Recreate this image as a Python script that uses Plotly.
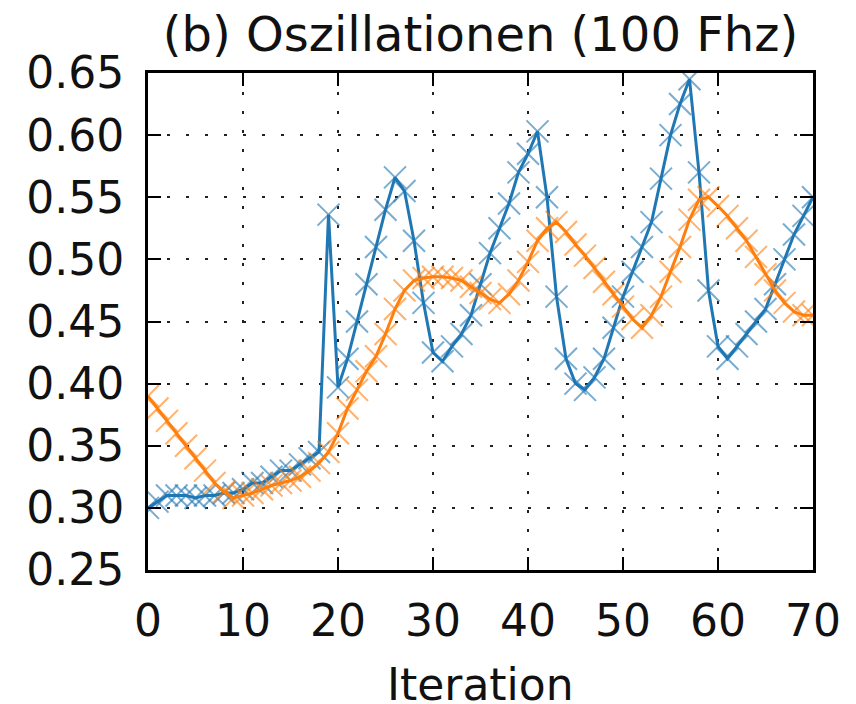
import plotly.graph_objects as go

# Iterations 0..70
iterations = list(range(71))

# Series values per iteration
series_blue = [
    0.300, 0.305, 0.310, 0.310, 0.310, 0.308, 0.310, 0.310, 0.312, 0.312,
    0.315, 0.320, 0.320, 0.325, 0.330, 0.330, 0.335, 0.340, 0.345,
    0.536, 0.397, 0.420, 0.450, 0.480, 0.510, 0.540, 0.566, 0.555, 0.515, 0.465, 0.425,
    0.418, 0.430, 0.440, 0.455, 0.480, 0.505, 0.525, 0.545, 0.570, 0.585, 0.603,
    0.550, 0.470, 0.420, 0.400, 0.395, 0.405, 0.420, 0.445, 0.470, 0.490, 0.510, 0.530,
    0.565, 0.600, 0.625, 0.645,
    0.570, 0.475, 0.430, 0.420, 0.430, 0.440, 0.450, 0.460, 0.480, 0.500, 0.520, 0.535, 0.550,
]
series_orange = [
    0.390, 0.380, 0.370, 0.360, 0.350, 0.340, 0.330, 0.320, 0.313, 0.308,
    0.310, 0.312, 0.315, 0.318, 0.320, 0.322, 0.325, 0.330, 0.336,
    0.345, 0.360, 0.380, 0.395, 0.410, 0.422, 0.440, 0.460, 0.475, 0.483, 0.485, 0.486,
    0.486, 0.485, 0.483, 0.478, 0.473, 0.468, 0.465, 0.472, 0.483, 0.498, 0.515,
    0.525, 0.530, 0.522, 0.512, 0.503, 0.493, 0.482, 0.472, 0.462, 0.452, 0.445, 0.455,
    0.470, 0.490, 0.510, 0.532,
    0.548, 0.550, 0.543, 0.535, 0.525, 0.515, 0.502, 0.488, 0.475, 0.465, 0.458, 0.455, 0.455,
]

x_ticks = [0, 10, 20, 30, 40, 50, 60, 70]
y_ticks = [0.25, 0.30, 0.35, 0.40, 0.45, 0.50, 0.55, 0.60, 0.65]

title_text = "(b) Oszillationen (100 Fhz)"
x_label = "Iteration"

FONT = "DejaVu Sans"

fig = go.Figure()
for vals, color in [(series_blue, "#1f77b4"), (series_orange, "#ff7f0e")]:
    fig.add_trace(go.Scatter(
        x=iterations, y=vals, mode="lines+markers",
        line=dict(color=color, width=3),
        marker=dict(symbol="x-thin", size=22, opacity=0.6,
                    line=dict(color=color, width=2)),
        showlegend=False, cliponaxis=True,
    ))

axis_common = dict(
    showline=True, linecolor="black", linewidth=3, mirror="ticks",
    ticks="inside", ticklen=13, tickwidth=1.5, tickcolor="black",
    showgrid=True, gridcolor="#222", gridwidth=2, griddash="3px,16px",
    zeroline=False, automargin=False,
    tickfont=dict(family=FONT, size=44, color="#111"),
)

fig.update_xaxes(range=[0, 70], tickvals=x_ticks, ticklabelstandoff=10, **axis_common)
fig.update_yaxes(range=[0.25, 0.65], tickvals=y_ticks, tickformat=".2f",
                 ticklabelstandoff=12, **axis_common)

# x-axis label placed below the tick labels
fig.add_annotation(text=x_label, x=0.5, xref="paper", xanchor="center",
                   y=-0.231, yref="paper", yanchor="middle", showarrow=False,
                   font=dict(family=FONT, size=44, color="#111"))

fig.update_layout(
    width=856, height=704,
    margin=dict(l=148, r=43, t=73, b=134, autoexpand=False),
    paper_bgcolor="white", plot_bgcolor="white",
    title=dict(text=title_text, x=0.5, xref="paper", xanchor="center",
               y=0.952, yref="container", yanchor="middle",
               font=dict(family=FONT, size=48, color="#111")),
)

fig.write_html("out.html")
